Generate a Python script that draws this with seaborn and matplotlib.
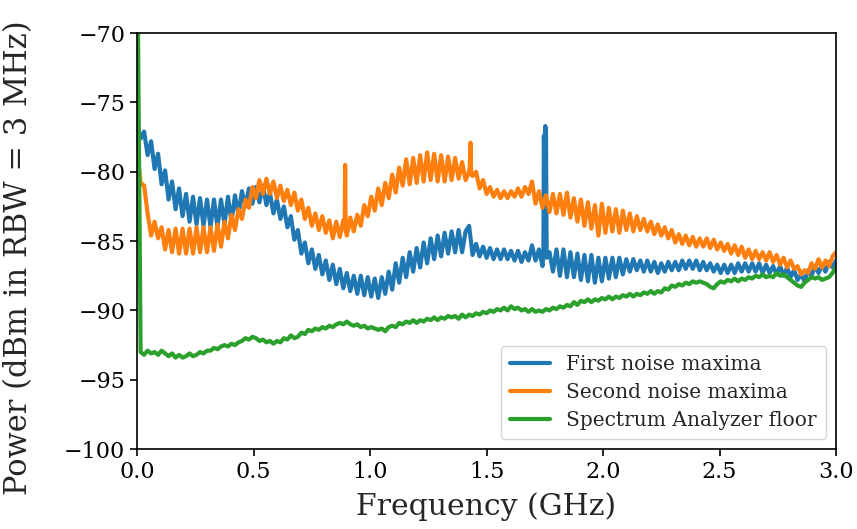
import numpy as np
import pandas as pd
import matplotlib
matplotlib.use("Agg")
import matplotlib.pyplot as plt
import seaborn as sns

# Sweep grid of the analyzer trace (GHz)
freq_ghz = np.round(np.arange(201) * 0.015, 3)

first_maxima = [
    -76.5, -77.6, -77.1, -78.8, -77.8, -79.8, -78.7, -80.9, -79.9, -82.0,
    -80.7, -82.7, -81.2, -83.2, -81.6, -83.6, -81.8, -83.8, -81.9, -83.9,
    -82.0, -84.0, -82.0, -84.0, -82.0, -83.8, -81.8, -83.6, -81.7, -83.1,
    -81.4, -82.5, -81.2, -82.3, -81.1, -82.2, -81.0, -82.4, -81.5, -83.0,
    -82.0, -83.4, -82.5, -84.0, -83.2, -84.9, -84.2, -85.9, -85.1, -86.6,
    -85.6, -87.0, -86.0, -87.4, -86.4, -87.8, -86.7, -88.1, -87.0, -88.4,
    -87.3, -88.6, -87.5, -88.8, -87.5, -88.9, -87.6, -89.0, -87.7, -89.1,
    -87.6, -88.8, -87.2, -88.5, -86.6, -88.0, -86.2, -87.6, -85.8, -87.2,
    -85.5, -86.9, -85.1, -86.6, -84.8, -86.3, -84.6, -86.1, -84.4, -85.9,
    -84.3, -85.8, -84.2, -85.8, -84.3, -83.9, -86.0, -85.2, -86.1, -85.4,
    -86.2, -85.5, -86.3, -85.6, -86.3, -85.6, -86.3, -85.7, -86.4, -85.7,
    -86.5, -85.8, -86.4, -85.3, -86.4, -85.6, -86.8, -77.0, -85.8, -87.2,
    -85.6, -87.5, -85.6, -87.6, -85.8, -87.6, -85.9, -87.8, -86.0, -87.9,
    -86.0, -88.0, -86.2, -87.9, -86.2, -87.7, -86.2, -87.6, -86.2, -87.4,
    -86.3, -87.2, -86.3, -87.1, -86.4, -87.2, -86.4, -87.2, -86.5, -87.3,
    -86.6, -87.2, -86.5, -87.1, -86.5, -87.1, -86.4, -87.0, -86.4, -87.0,
    -86.4, -87.1, -86.5, -87.1, -86.6, -87.2, -86.7, -87.3, -86.7, -87.3,
    -86.7, -87.3, -86.6, -87.2, -86.6, -87.2, -86.6, -87.2, -86.6, -87.3,
    -86.7, -87.3, -86.8, -87.4, -86.8, -87.5, -86.9, -87.6, -87.1, -87.8,
    -87.4, -87.9, -87.1, -87.5, -86.8, -87.3, -86.7, -87.2, -86.5, -86.9,
    -86.4,
]

second_maxima = [
    -78.5, -80.8, -81.0, -83.0, -84.6, -83.6, -84.8, -84.0, -85.6, -84.2,
    -85.8, -84.1, -85.9, -84.1, -85.9, -84.1, -85.9, -84.0, -85.8, -84.0,
    -85.8, -84.0, -85.7, -83.8, -85.4, -83.6, -84.8, -83.1, -84.2, -82.7,
    -83.4, -82.0, -82.6, -81.1, -81.9, -80.6, -81.6, -80.5, -81.6, -80.7,
    -81.9, -81.0, -82.1, -81.3, -82.4, -81.5, -82.8, -82.0, -83.4, -82.6,
    -83.9, -83.0, -84.2, -83.2, -84.4, -83.5, -84.8, -83.6, -84.7, -83.5,
    -84.6, -83.3, -84.3, -83.1, -83.9, -82.4, -83.2, -81.8, -82.8, -81.2,
    -82.4, -80.8, -81.9, -80.2, -81.5, -79.7, -81.0, -79.1, -80.9, -79.0,
    -80.8, -78.8, -80.7, -78.6, -80.6, -78.7, -80.7, -78.8, -80.7, -78.9,
    -80.6, -79.0, -80.5, -79.3, -80.6, -80.0, -80.3, -80.0, -81.2, -80.6,
    -81.6, -81.1, -81.8, -81.3, -81.9, -81.4, -81.9, -81.4, -81.8, -81.2,
    -81.8, -81.1, -81.6, -80.7, -82.3, -81.4, -82.6, -81.7, -82.9, -81.6,
    -83.0, -81.6, -83.1, -81.5, -83.3, -81.9, -83.6, -82.0, -83.9, -82.2,
    -84.1, -82.4, -84.6, -82.3, -84.4, -82.6, -84.3, -82.7, -84.4, -82.8,
    -84.2, -83.0, -84.3, -83.2, -84.2, -83.4, -84.3, -83.6, -84.5, -83.8,
    -84.6, -84.0, -84.8, -84.2, -85.1, -84.5, -85.2, -84.6, -85.3, -84.7,
    -85.4, -84.8, -85.4, -84.8, -85.5, -84.9, -85.6, -85.1, -85.7, -85.2,
    -85.9, -85.3, -86.0, -85.4, -86.2, -85.6, -86.3, -85.7, -86.3, -85.8,
    -86.4, -85.8, -86.5, -86.0, -86.7, -86.2, -86.9, -86.4, -87.0, -86.8,
    -87.4, -87.1, -87.3, -86.6, -87.0, -86.3, -86.9, -86.4, -86.8, -86.1,
    -85.8,
]

analyzer_floor = [
    -62.0, -93.0, -93.2, -92.9, -93.1, -93.0, -93.2, -92.9, -93.1, -93.3,
    -93.1, -93.4, -93.2, -93.4, -93.3, -93.1, -93.3, -93.2, -93.0, -93.1,
    -92.9, -92.9, -92.7, -92.8, -92.6, -92.5, -92.6, -92.4, -92.5, -92.3,
    -92.2, -92.0, -92.1, -91.9, -92.0, -92.2, -92.1, -92.3, -92.2, -92.4,
    -92.2, -92.3, -92.0, -92.1, -91.8, -92.0, -91.9, -91.6, -91.7, -91.4,
    -91.5, -91.3, -91.4, -91.2, -91.3, -91.1, -91.2, -91.0, -90.9, -91.0,
    -90.8, -91.0, -91.1, -91.0, -91.2, -91.1, -91.3, -91.2, -91.3, -91.4,
    -91.3, -91.5, -91.2, -91.1, -91.2, -90.9, -91.0, -90.8, -90.9, -90.7,
    -90.9, -90.7, -90.8, -90.6, -90.7, -90.5, -90.7, -90.5, -90.6, -90.4,
    -90.5, -90.4, -90.6, -90.3, -90.5, -90.3, -90.4, -90.2, -90.3, -90.1,
    -90.2, -90.0, -90.1, -89.9, -90.0, -89.8, -90.0, -89.7, -89.9, -89.8,
    -90.0, -89.9, -90.1, -89.9, -90.1, -90.0, -90.1, -89.9, -90.0, -89.8,
    -89.9, -89.7, -89.8, -89.6, -89.7, -89.4, -89.6, -89.3, -89.4, -89.2,
    -89.4, -89.2, -89.3, -89.1, -89.2, -89.0, -89.2, -89.0, -89.1, -88.9,
    -89.0, -88.8, -89.0, -88.8, -88.9, -88.7, -88.8, -88.6, -88.8, -88.6,
    -88.7, -88.4, -88.5, -88.2, -88.3, -88.1, -88.2, -88.0, -88.1, -87.9,
    -88.0, -87.9, -88.0, -88.1, -88.3, -88.4, -88.1, -87.9, -88.0, -87.8,
    -87.9, -87.7, -87.9, -87.7, -87.8, -87.6, -87.7, -87.5, -87.6, -87.4,
    -87.6, -87.5, -87.6, -87.3, -87.5, -87.4, -87.6, -87.8, -88.0, -88.2,
    -88.3, -88.0, -87.8, -87.6, -87.7, -87.6, -87.8, -87.7, -87.6, -87.3,
    -86.9,
]

# Narrow spurs resolved between sweep points
first_spur_freq = [1.744, 1.746, 1.749, 1.752, 1.758]
first_spur_power = [-86.0, -77.4, -79.5, -76.7, -86.2]
second_spur_freq = [0.891, 0.893, 0.895, 1.428, 1.431, 1.434]
second_spur_power = [-84.0, -79.5, -84.2, -79.6, -77.9, -80.2]

labels = ["First noise maxima", "Second noise maxima", "Spectrum Analyzer floor"]

frames = [
    pd.DataFrame({"freq": np.concatenate([freq_ghz, first_spur_freq]),
                  "power": np.concatenate([first_maxima, first_spur_power]),
                  "trace": labels[0]}),
    pd.DataFrame({"freq": np.concatenate([freq_ghz, second_spur_freq]),
                  "power": np.concatenate([second_maxima, second_spur_power]),
                  "trace": labels[1]}),
    pd.DataFrame({"freq": freq_ghz, "power": analyzer_floor, "trace": labels[2]}),
]
df = pd.concat(frames, ignore_index=True)

sns.set_style("ticks")
plt.rcParams["font.family"] = ["DejaVu Serif"]

fig = plt.figure(figsize=(8.57, 5.29), dpi=100)
ax = fig.add_axes([0.160, 0.151, 0.8155, 0.7864])

palette = ["#1f77b4", "#ff7f0e", "#2ca02c"]
sns.lineplot(data=df, x="freq", y="power", hue="trace", hue_order=labels,
             palette=palette, sort=True, estimator=None, linewidth=3.0, ax=ax)

ax.set_xlim(0, 3.0)
ax.set_ylim(-100, -70)
ax.set_xticks([0.0, 0.5, 1.0, 1.5, 2.0, 2.5, 3.0])
ax.set_yticks([-100, -95, -90, -85, -80, -75, -70])
ax.set_xlabel("Frequency (GHz)", fontsize=21.5, labelpad=7)
ax.set_ylabel("Power (dBm in RBW = 3 MHz)", fontsize=22, labelpad=8)
ax.yaxis.set_label_coords(-0.148, 0.46)
ax.tick_params(axis="both", labelsize=16, direction="out", length=5,
               width=1.2, color="black", labelcolor="black")
for s in ax.spines.values():
    s.set_color("black")
    s.set_linewidth(1.2)

handles, _ = ax.get_legend_handles_labels()
leg = ax.legend(handles, labels, loc="lower right", fontsize=14.5,
                frameon=True, fancybox=True, framealpha=0.8,
                edgecolor="#cccccc", borderpad=0.45, handlelength=2.0,
                labelspacing=0.45)
for h in leg.get_lines():
    h.set_linewidth(3.0)

fig.savefig("out.png", dpi=100)
